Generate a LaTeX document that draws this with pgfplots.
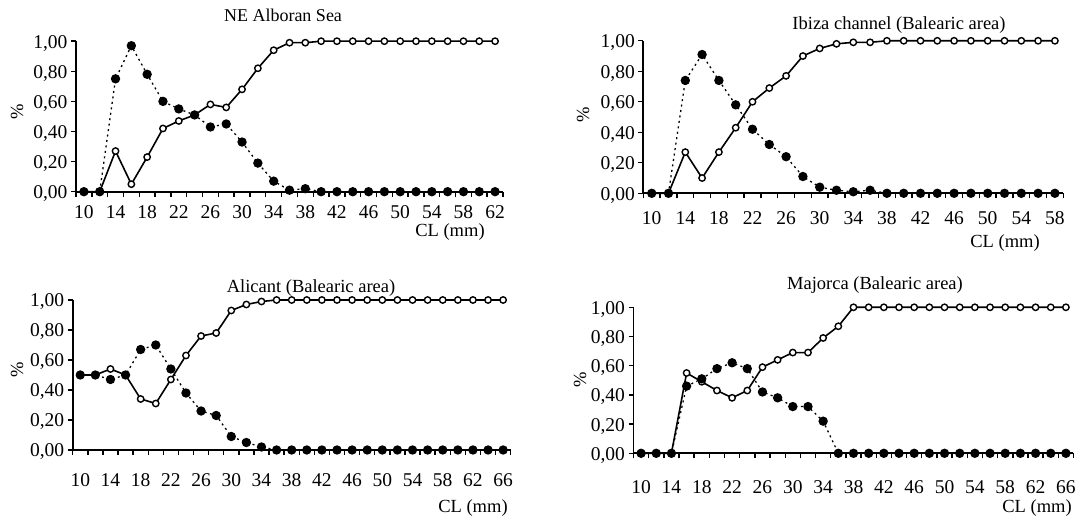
\documentclass[border=0pt]{standalone}
\usepackage{fontspec}
\setmainfont{Liberation Serif}
\usepackage{pgfplots}
\pgfplotsset{compat=1.18}
\usepackage{pgfplotstable}

% CL (mm), proportion open circles, proportion filled dots
\pgfplotstableread{
x open filled
10 0 0
12 0 0
14 0.27 0.75
16 0.05 0.97
18 0.23 0.78
20 0.42 0.60
22 0.47 0.55
24 0.51 0.51
26 0.58 0.43
28 0.56 0.45
30 0.68 0.33
32 0.82 0.19
34 0.94 0.07
36 0.99 0.01
38 0.99 0.02
40 1 0
42 1 0
44 1 0
46 1 0
48 1 0
50 1 0
52 1 0
54 1 0
56 1 0
58 1 0
60 1 0
62 1 0
}\alboran

\pgfplotstableread{
x open filled
10 0 0
12 0 0
14 0.27 0.74
16 0.10 0.91
18 0.27 0.74
20 0.43 0.58
22 0.60 0.42
24 0.69 0.32
26 0.77 0.24
28 0.90 0.11
30 0.95 0.04
32 0.98 0.02
34 0.99 0.01
36 0.99 0.02
38 1 0
40 1 0
42 1 0
44 1 0
46 1 0
48 1 0
50 1 0
52 1 0
54 1 0
56 1 0
58 1 0
}\ibiza

\pgfplotstableread{
x open filled
10 0.50 0.50
12 0.50 0.50
14 0.54 0.47
16 0.50 0.50
18 0.34 0.67
20 0.31 0.70
22 0.47 0.54
24 0.63 0.38
26 0.76 0.26
28 0.78 0.23
30 0.93 0.09
32 0.97 0.05
34 0.99 0.02
36 1 0
38 1 0
40 1 0
42 1 0
44 1 0
46 1 0
48 1 0
50 1 0
52 1 0
54 1 0
56 1 0
58 1 0
60 1 0
62 1 0
64 1 0
66 1 0
}\alicant

\pgfplotstableread{
x open filled
10 0 0
12 0 0
14 0 0
16 0.55 0.46
18 0.49 0.51
20 0.43 0.58
22 0.38 0.62
24 0.43 0.58
26 0.59 0.42
28 0.64 0.38
30 0.69 0.32
32 0.69 0.32
34 0.79 0.22
36 0.87 0
38 1 0
40 1 0
42 1 0
44 1 0
46 1 0
48 1 0
50 1 0
52 1 0
54 1 0
56 1 0
58 1 0
60 1 0
62 1 0
64 1 0
66 1 0
}\majorca

\pgfplotsset{
  panel/.style={
    scale only axis, anchor=south west, clip=false,
    ymin=0, ymax=1, ytick={0,0.2,...,1},
    axis x line*=bottom, axis y line*=left,
    axis line style={line width=1.7pt,-},
    tick align=outside, major tick length=5pt, minor tick length=5pt,
    every tick/.style={black, line width=1.4pt},
    tick label style={font=\fontsize{19.5}{22}\selectfont},
    /pgf/number format/assume math mode=true,
    yticklabel style={yshift=-2pt, /pgf/number format/.cd, fixed, fixed zerofill, precision=2, use comma},
    xtick={10,14,...,66}, minor xtick={9,11,...,67},
    major x tick style={draw=none},
  },
  opn/.style={black, line width=1.6pt, mark=*, mark size=3.2pt,
    mark options={fill=white, line width=1.4pt, solid}},
  fil/.style={black, line width=1.3pt, dash pattern=on 2pt off 3.5pt,
    mark=*, mark size=4pt, mark options={solid}},
}
\newcommand{\lbl}{\fontsize{18.5}{21}\selectfont}

\begin{document}
\begin{tikzpicture}
\path[use as bounding box] (0,0) rectangle (1080pt,521pt);

% NE Alboran Sea
\begin{axis}[panel, at={(76pt,329.3pt)}, width=427pt, height=150.5pt,
  xmin=9, xmax=63, xticklabel style={yshift=-5pt}]
\addplot[opn] table[x=x,y=open] {\alboran};
\addplot[fil] table[x=x,y=filled] {\alboran};
\end{axis}

% Ibiza channel
\begin{axis}[panel, at={(643.3pt,327.7pt)}, width=420pt, height=152.5pt,
  xmin=9, xmax=59, xticklabel style={yshift=-10pt}]
\addplot[opn] table[x=x,y=open] {\ibiza};
\addplot[fil] table[x=x,y=filled] {\ibiza};
\end{axis}

% Alicant
\begin{axis}[panel, at={(72.7pt,71pt)}, width=438pt, height=150pt,
  xmin=9, xmax=67, xticklabel style={yshift=-15pt}]
\addplot[opn] table[x=x,y=open] {\alicant};
\addplot[fil] table[x=x,y=filled] {\alicant};
\end{axis}

% Majorca
\begin{axis}[panel, at={(633.5pt,67.7pt)}, width=440pt, height=146pt,
  xmin=9, xmax=67, xticklabel style={yshift=-19pt}]
\addplot[opn] table[x=x,y=open] {\majorca};
\addplot[fil] table[x=x,y=filled] {\majorca};
\end{axis}

\node[font=\fontsize{18}{21}\selectfont] at (283pt,506pt) {NE Alboran Sea};
\node[font=\lbl] at (899pt,496pt) {Ibiza channel (Balearic area)};
\node[font=\lbl] at (311pt,233pt) {Alicant (Balearic area)};
\node[font=\lbl] at (875pt,236pt) {Majorca (Balearic area)};

\node[font=\lbl] at (450pt,289pt) {CL (mm)};
\node[font=\lbl] at (1005pt,278pt) {CL (mm)};
\node[font=\lbl] at (473pt,13pt) {CL (mm)};
\node[font=\lbl] at (1037pt,13pt) {CL (mm)};

\node[font=\lbl, rotate=90] at (17pt,409pt) {\%};
\node[font=\lbl, rotate=90] at (583pt,406pt) {\%};
\node[font=\lbl, rotate=90] at (17pt,151pt) {\%};
\node[font=\lbl, rotate=90] at (580pt,141pt) {\%};
\end{tikzpicture}
\end{document}
